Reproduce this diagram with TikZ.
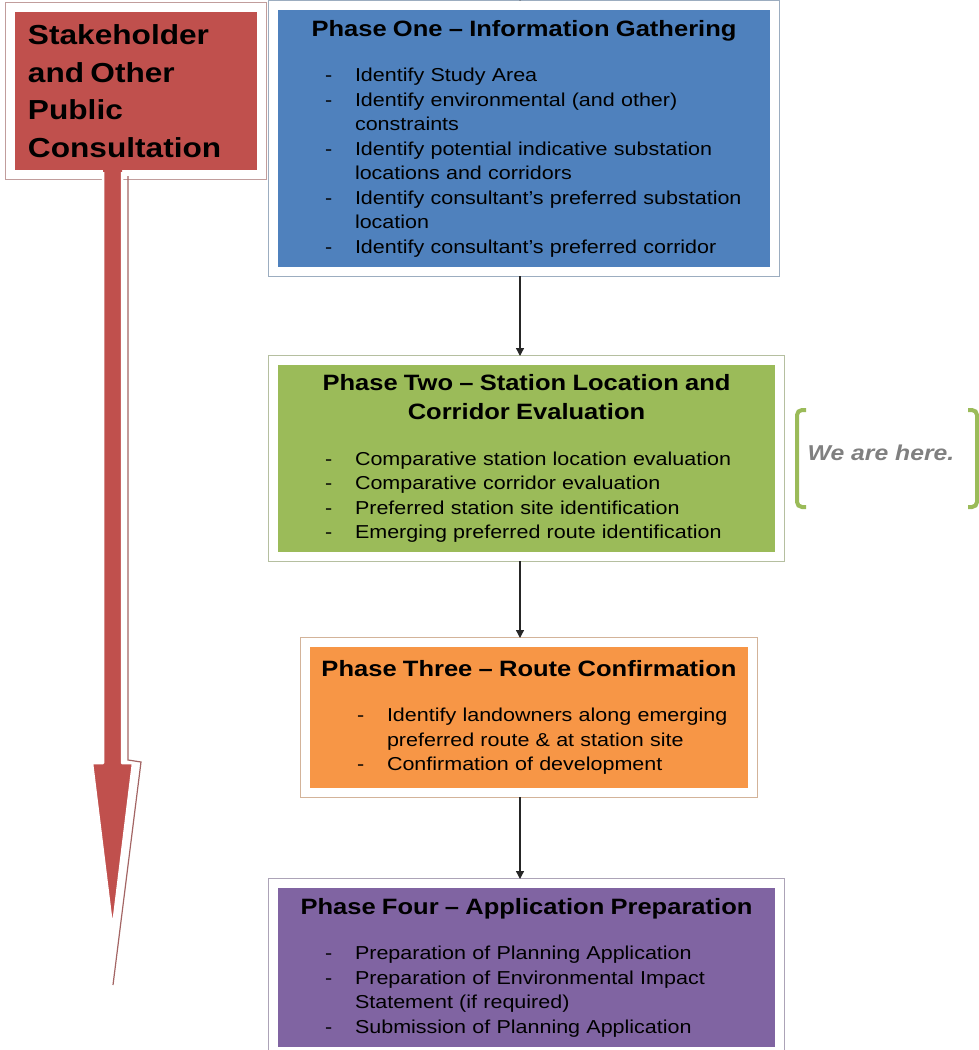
\documentclass[tikz,border=0pt]{standalone}
\usepackage{fontspec}
\setmainfont[FakeStretch=1.15]{Liberation Sans}
\usetikzlibrary{arrows.meta,positioning}

\definecolor{consultred}{HTML}{C0504D}
\definecolor{phaseblue}{HTML}{4F81BD}
\definecolor{phasegreen}{HTML}{9BBB59}
\definecolor{phaseorange}{HTML}{F79646}
\definecolor{phasepurple}{HTML}{8064A2}
\definecolor{heregray}{HTML}{808080}

% title and dash items inside the phase boxes
\newcommand{\phasehead}[1]{{\centering\fontsize{22.2}{29.5}\selectfont\bfseries #1\par}\vspace{21pt}}
\newcommand{\phasepoint}[1]{{\let\\\newline\leftskip=47pt\hangindent=30pt\noindent\hbox to 30pt{-\hfil}#1\par}}

\begin{document}
\begin{tikzpicture}[x=1pt, y=-1pt,
    phasebox/.style={rectangle, fill=#1, draw=white, line width=9pt,
        preaction={draw=#1!50!gray!65, line width=11pt},
        inner xsep=4.5pt, inner ysep=4.5pt, align=left,
        font=\fontsize{18.7}{24.5}\selectfont},
    flow/.style={-{Triangle[length=8pt,width=8pt]}, line width=1.3pt, draw=black!85},
    bracket/.style={draw=phasegreen, line width=4pt, rounded corners=5pt},
    herelabel/.style={font=\fontsize{21.5}{24}\selectfont\bfseries\itshape, text=heregray}]
    \useasboundingbox (0,0) rectangle (978,1050);
    \coordinate (col) at (520,0);
    \coordinate (top) at (520,-30);

    % consultation box and its long arrow
    \node[phasebox=consultred, text width=242pt, minimum height=167pt] (consult) at (136,91)
        {{\leftskip=13pt\fontsize{27.5}{37.5}\selectfont\bfseries Stakeholder\\and Other\\Public\\Consultation\par}};
    \draw[consultred!55!gray, line width=1.2pt] (128,176) -- (128,760) -- (141,762) -- (113,985);
    \fill[consultred] (103,166) -- (103,763) -- (92,763) -- (112.5,930) -- (133,763) -- (122,763) -- (122,166) -- cycle;
    \draw[white, line width=2.5pt, line join=round] (103,172) -- (103,763) -- (92,763) -- (112.5,930) -- (133,763) -- (122,763) -- (122,172);

    % the four phases
    \node[phasebox=phaseblue, text width=492pt, minimum height=266pt] (one) at (524,138.5) {%
        \phasehead{Phase One – Information Gathering}
        \phasepoint{Identify Study Area}
        \phasepoint{Identify environmental (and other)\\constraints}
        \phasepoint{Identify potential indicative substation\\locations and corridors}
        \phasepoint{Identify consultant’s preferred substation\\location}
        \phasepoint{Identify consultant’s preferred corridor}};
    \node[phasebox=phasegreen, text width=497pt, minimum height=196pt] (two) at (526.5,458.5) {%
        \phasehead{Phase Two – Station Location and\\Corridor Evaluation}
        \phasepoint{Comparative station location evaluation}
        \phasepoint{Comparative corridor evaluation}
        \phasepoint{Preferred station site identification}
        \phasepoint{Emerging preferred route identification}};
    \node[phasebox=phaseorange, text width=438pt, minimum height=150pt] (three) at (529,717.5) {%
        \phasehead{Phase Three – Route Confirmation}
        \phasepoint{Identify landowners along emerging\\preferred route \& at station site}
        \phasepoint{Confirmation of development}};
    \node[phasebox=phasepurple, text width=497pt, minimum height=168pt] (four) at (526.5,967.5) {%
        \phasehead{Phase Four – Application Preparation}
        \phasepoint{Preparation of Planning Application}
        \phasepoint{Preparation of Environmental Impact\\Statement (if required)}
        \phasepoint{Submission of Planning Application}};

    \draw[flow] (top) -- (one.north -| col);
    \draw[flow] (one.south -| col) -- (two.north -| col);
    \draw[flow] (two.south -| col) -- (three.north -| col);
    \draw[flow] (three.south -| col) -- (four.north -| col);

    % where we are
    \node[herelabel] (here) at (881,453) {We are here.};
    \draw[bracket] (806,410) -- (797,410) -- (797,507) -- (806,507);
    \draw[bracket] (968,410) -- (977,410) -- (977,507) -- (968,507);
\end{tikzpicture}
\end{document}
